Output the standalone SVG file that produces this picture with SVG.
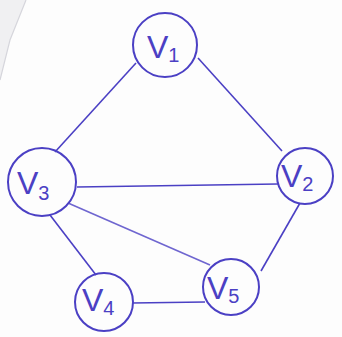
<svg xmlns="http://www.w3.org/2000/svg" width="342" height="337" viewBox="0 0 342 337">
<style>
.n{fill:none;stroke:#4b40c4;stroke-width:2}
.e{stroke:#4b40c4;stroke-width:1.6;fill:none}
.t{font-family:"Liberation Sans",sans-serif;font-size:32px;fill:#4b40c4;font-weight:300}
.s{font-size:20px}
</style>
<rect width="342" height="337" fill="#fdfdfd"/>
<path d="M0 0 L26 0 L10 40 L0 80 Z" fill="#f0f0f2"/>
<path d="M26 0 L10 40 L0 80" stroke="#d6d6dc" stroke-width="1.2" fill="none"/>
<g id="edges">
<line class="e" x1="136" y1="63" x2="55" y2="152"/>
<line class="e" x1="198" y1="58" x2="282" y2="151"/>
<line class="e" x1="77" y1="187" x2="278" y2="184"/>
<line class="e" x1="68" y1="203" x2="210" y2="265" stroke-width="1.2" stroke-opacity="0.8"/>
<line class="e" x1="50" y1="215" x2="96" y2="275"/>
<line class="e" x1="132" y1="303" x2="205" y2="302"/>
<line class="e" x1="300" y1="203" x2="261" y2="271"/>
</g>
<g id="v1"><circle class="n" cx="165" cy="45" r="32"/><text class="t" x="147" y="58">V<tspan class="s" dy="4">1</tspan></text></g>
<g id="v2"><circle class="n" cx="305" cy="176" r="28"/><text class="t" x="281" y="187">V<tspan class="s" dy="4">2</tspan></text></g>
<g id="v3"><circle class="n" cx="42" cy="182" r="34"/><text class="t" x="17" y="194">V<tspan class="s" dy="6">3</tspan></text></g>
<g id="v4"><circle class="n" cx="104" cy="302" r="29"/><text class="t" x="82" y="311">V<tspan class="s" dy="4">4</tspan></text></g>
<g id="v5"><circle class="n" cx="231" cy="287" r="28"/><text class="t" x="207" y="299">V<tspan class="s" dy="4">5</tspan></text></g>
</svg>
